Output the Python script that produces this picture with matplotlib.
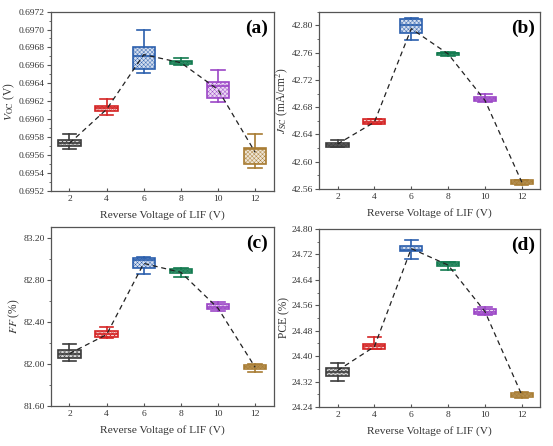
import matplotlib
matplotlib.use("Agg")
import matplotlib.pyplot as plt
from matplotlib.colors import to_rgb
from matplotlib.ticker import AutoMinorLocator

plt.rcParams['font.family'] = ['Liberation Serif', 'DejaVu Serif']
plt.rcParams['mathtext.fontset'] = 'stix'
plt.rcParams['hatch.linewidth'] = 0.3

voltages = [2, 4, 6, 8, 10, 12]
colors = ['#3c3c3c', '#d42424', '#2b5fad', '#127a4f', '#9b45c6', '#a87c32']

# each row: whislo, q1, med, q3, whishi, mean
voc = [
    [0.69567, 0.69570, 0.69573, 0.69577, 0.69583, 0.69573],
    [0.69605, 0.69609, 0.69612, 0.69615, 0.69622, 0.69611],
    [0.69652, 0.69656, 0.69670, 0.69681, 0.69700, 0.69672],
    [0.69660, 0.69662, 0.69664, 0.69665, 0.69668, 0.69663],
    [0.69619, 0.69624, 0.69637, 0.69642, 0.69655, 0.69633],
    [0.69545, 0.69550, 0.69567, 0.69568, 0.69583, 0.69563],
]
jsc = [
    [42.621, 42.621, 42.624, 42.627, 42.632, 42.626],
    [42.655, 42.656, 42.659, 42.662, 42.663, 42.658],
    [42.778, 42.789, 42.800, 42.809, 42.810, 42.795],
    [42.755, 42.756, 42.759, 42.760, 42.761, 42.758],
    [42.688, 42.689, 42.692, 42.695, 42.699, 42.690],
    [42.566, 42.567, 42.570, 42.573, 42.574, 42.570],
]
ff = [
    [82.025, 82.060, 82.092, 82.137, 82.194, 82.100],
    [82.248, 82.257, 82.283, 82.314, 82.356, 82.280],
    [82.854, 82.914, 82.990, 83.010, 83.020, 82.955],
    [82.825, 82.860, 82.883, 82.905, 82.908, 82.870],
    [82.508, 82.520, 82.543, 82.571, 82.590, 82.530],
    [81.930, 81.952, 81.971, 81.987, 82.000, 81.970],
]
pce = [
    [24.323, 24.337, 24.352, 24.362, 24.379, 24.355],
    [24.424, 24.424, 24.432, 24.439, 24.460, 24.430],
    [24.706, 24.729, 24.735, 24.746, 24.765, 24.738],
    [24.671, 24.682, 24.688, 24.696, 24.697, 24.686],
    [24.530, 24.534, 24.540, 24.549, 24.553, 24.540],
    [24.268, 24.272, 24.279, 24.285, 24.287, 24.278],
]

panels = [
    (voc, r'$V_{\rm OC}$ (V)', (0.6952, 0.6972), 0.0002, '{:.4f}', '(a)'),
    (jsc, r'$J_{\rm SC}$ (mA/cm$^2$)', (42.56, 42.82), 0.04, '{:.2f}', '(b)'),
    (ff, r'$FF$ (%)', (81.60, 83.30), 0.40, '{:.2f}', '(c)'),
    (pce, 'PCE (%)', (24.24, 24.80), 0.08, '{:.2f}', '(d)'),
]
positions = [
    [0.092, 0.572, 0.403, 0.402],
    [0.577, 0.576, 0.400, 0.398],
    [0.092, 0.089, 0.403, 0.402],
    [0.577, 0.087, 0.400, 0.400],
]

fig = plt.figure(figsize=(5.53, 4.46), dpi=100)

for (data, ylabel, ylim, step, fmt, tag), pos in zip(panels, positions):
    ax = fig.add_axes(pos)
    stats = []
    for row in data:
        stats.append(dict(whislo=row[0], q1=row[1], med=row[2], q3=row[3],
                          whishi=row[4], mean=row[5], fliers=[]))
    bp = ax.bxp(stats, positions=voltages, widths=1.2, patch_artist=True,
                showfliers=False, showmeans=False, manage_ticks=False)
    for i, c in enumerate(colors):
        r, g, b = to_rgb(c)
        light = (1 - 0.2 * (1 - r), 1 - 0.2 * (1 - g), 1 - 0.2 * (1 - b))
        bp['boxes'][i].set(facecolor=light, edgecolor=c, linewidth=1.2, hatch='xxxxxxxx')
        bp['medians'][i].set(color=c, linewidth=1.2)
        for w in bp['whiskers'][2 * i:2 * i + 2]:
            w.set(color=c, linewidth=1.2)
        for cap in bp['caps'][2 * i:2 * i + 2]:
            cap.set(color=c, linewidth=1.2)
            xd = cap.get_xdata()
            mid = (xd[0] + xd[1]) / 2
            cap.set_xdata([mid - 0.36, mid + 0.36])
    means = [row[5] for row in data]
    ax.plot(voltages, means, ls=(0, (4, 3)), color='#222222', lw=0.9, zorder=5)

    ax.set_xlim(1, 13)
    ax.set_ylim(*ylim)
    ticks = []
    t = ylim[0]
    while t <= ylim[1] + step * 0.01:
        ticks.append(round(t, 6))
        t += step
    ax.set_yticks(ticks)
    ax.set_yticklabels([fmt.format(v) for v in ticks])
    ax.yaxis.set_minor_locator(AutoMinorLocator(2))
    ax.set_xticks(voltages)
    ax.tick_params(axis='y', which='major', direction='out', length=3, pad=1.5,
                   labelsize=6.8, color='#555555', labelcolor='#333333')
    ax.tick_params(axis='y', which='minor', direction='out', length=1.8, color='#555555')
    ax.tick_params(axis='x', which='major', direction='in', length=2.5, pad=3,
                   labelsize=6.8, color='#555555', labelcolor='#333333')
    for s in ax.spines.values():
        s.set_color('#555555')
        s.set_linewidth(0.9)
    ax.set_xlabel('Reverse Voltage of LIF (V)', fontsize=8.2, color='#333333', labelpad=5)
    ax.set_ylabel(ylabel, fontsize=8.3, color='#333333', labelpad=1)
    ax.text(0.975, 0.955, tag, transform=ax.transAxes, ha='right', va='top',
            fontsize=14, fontweight='bold')

fig.savefig('out.png', dpi=100)
